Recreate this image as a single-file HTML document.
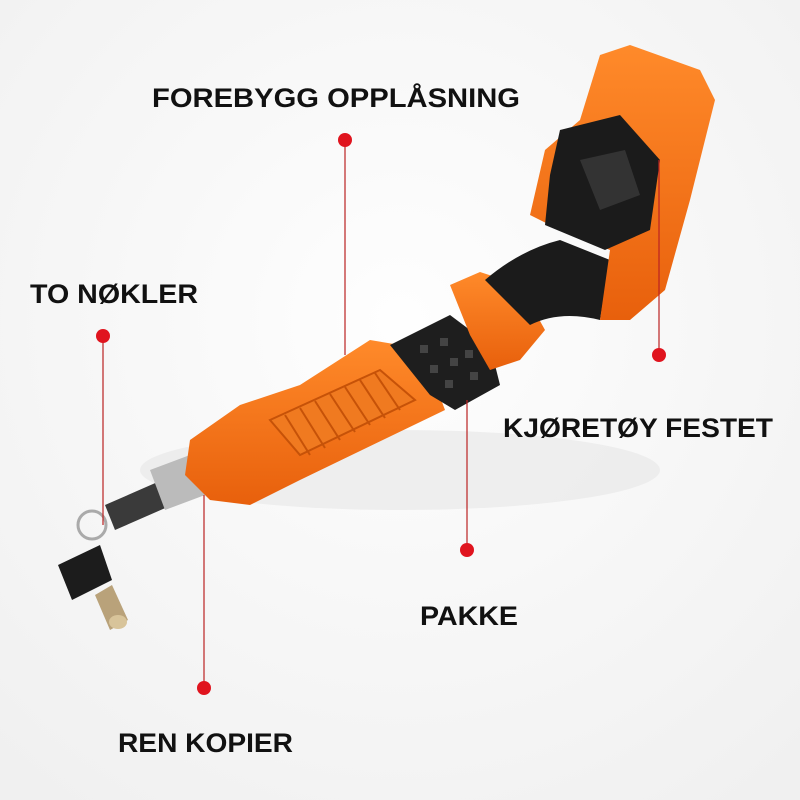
<!DOCTYPE html>
<html><head><meta charset="utf-8"><style>
html,body{margin:0;padding:0;background:#f8f8f8;}
svg{display:block}
text{font-family:"Liberation Sans",sans-serif;font-weight:bold;fill:#111;}
</style></head><body>
<svg width="800" height="800" viewBox="0 0 800 800">
<defs>
<radialGradient id="bg" cx="50%" cy="40%" r="75%"><stop offset="0" stop-color="#fefefe"/><stop offset="1" stop-color="#f0f0f0"/></radialGradient>
<linearGradient id="or" x1="0" y1="0" x2="0" y2="1"><stop offset="0" stop-color="#ff8a2a"/><stop offset="1" stop-color="#e8600c"/></linearGradient>
</defs>
<rect width="800" height="800" fill="url(#bg)"/>
<ellipse cx="400" cy="470" rx="260" ry="40" fill="#e6e6e6" opacity="0.6"/>
<polygon points="105,505 185,470 195,495 115,530" fill="#3a3a3a"/>
<polygon points="150,470 190,455 205,495 165,510" fill="#bbb"/>
<circle cx="92" cy="525" r="14" fill="none" stroke="#aaa" stroke-width="3"/>
<polygon points="58,565 100,545 112,580 72,600" fill="#1c1c1c"/>
<polygon points="95,595 112,585 128,620 110,630" fill="#b9a27a"/>
<ellipse cx="118" cy="622" rx="9" ry="7" fill="#d8c49a"/>
<polygon points="190,440 240,405 300,385 370,340 400,345 430,370 445,410 300,480 250,505 210,500 185,475" fill="url(#or)"/>
<polygon points="270,420 380,370 415,400 300,455" fill="#f07a20" stroke="#c65208" stroke-width="2"/>
<g stroke="#c65208" stroke-width="2">
<line x1="285" y1="415" x2="310" y2="455"/><line x1="300" y1="408" x2="325" y2="448"/><line x1="315" y1="401" x2="340" y2="440"/><line x1="330" y1="394" x2="355" y2="432"/><line x1="345" y1="387" x2="370" y2="425"/><line x1="360" y1="380" x2="385" y2="418"/><line x1="375" y1="373" x2="400" y2="410"/>
</g>
<polygon points="390,345 450,315 490,345 500,385 455,410 430,395" fill="#1e1e1e"/>
<g fill="#444"><rect x="420" y="345" width="8" height="8"/><rect x="440" y="338" width="8" height="8"/><rect x="430" y="365" width="8" height="8"/><rect x="450" y="358" width="8" height="8"/><rect x="465" y="350" width="8" height="8"/><rect x="445" y="380" width="8" height="8"/><rect x="470" y="372" width="8" height="8"/></g>
<polygon points="450,285 480,272 520,285 545,330 520,360 490,370 470,335" fill="url(#or)"/>
<path d="M485,280 Q520,250 560,240 L610,260 L600,320 Q560,310 530,325 Z" fill="#1b1b1b"/>
<polygon points="600,55 630,45 700,70 715,100 690,200 665,290 630,320 600,320 610,250 560,230 530,215 545,150 580,120" fill="url(#or)"/>
<polygon points="560,130 620,115 660,160 650,230 605,250 545,225 550,175" fill="#1b1b1b"/>
<polygon points="580,160 625,150 640,195 600,210" fill="#333"/>
<g stroke="#b22" stroke-width="1.2">
<line x1="345" y1="140" x2="345" y2="355"/>
<line x1="103" y1="336" x2="103" y2="525"/>
<line x1="659" y1="355" x2="659" y2="160"/>
<line x1="467" y1="550" x2="467" y2="400"/>
<line x1="204" y1="688" x2="204" y2="495"/>
</g>
<g fill="#e0141e">
<circle cx="345" cy="140" r="7"/><circle cx="103" cy="336" r="7"/><circle cx="659" cy="355" r="7"/><circle cx="467" cy="550" r="7"/><circle cx="204" cy="688" r="7"/>
</g>
<text x="152" y="107" font-size="27" textLength="368" lengthAdjust="spacingAndGlyphs">FOREBYGG OPPLÅSNING</text>
<text x="30" y="303" font-size="27" textLength="168" lengthAdjust="spacingAndGlyphs">TO NØKLER</text>
<text x="503" y="437" font-size="27" textLength="270" lengthAdjust="spacingAndGlyphs">KJØRETØY FESTET</text>
<text x="420" y="625" font-size="27" textLength="98" lengthAdjust="spacingAndGlyphs">PAKKE</text>
<text x="118" y="752" font-size="27" textLength="175" lengthAdjust="spacingAndGlyphs">REN KOPIER</text>
</svg>
</body></html>
